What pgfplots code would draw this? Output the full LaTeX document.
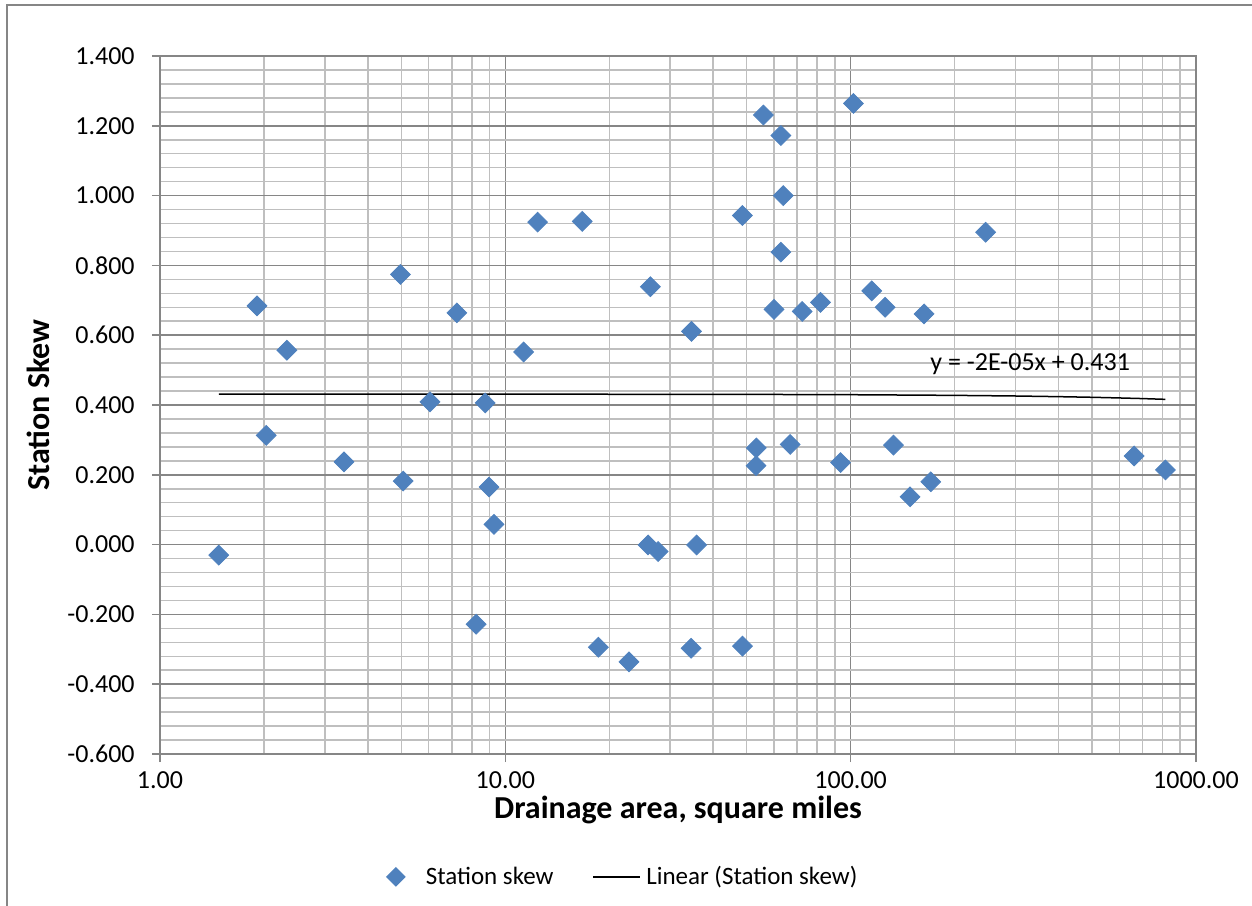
\documentclass[border=0pt]{standalone}
\usepackage{fontspec}
\setmainfont{Carlito}
\usepackage{pgfplots}
\pgfplotsset{compat=1.18}
\definecolor{mk}{HTML}{4F81BD}
\definecolor{majg}{HTML}{868686}
\definecolor{ming}{HTML}{BFBFBF}
\pgfplotstableread{
x y
1.48 -0.030
1.91 0.684
2.03 0.313
2.33 0.557
3.41 0.237
4.97 0.774
5.06 0.182
6.05 0.409
7.24 0.664
8.23 -0.228
8.74 0.406
8.97 0.165
9.27 0.058
11.3 0.552
12.4 0.924
16.7 0.926
18.6 -0.294
22.8 -0.336
25.9 -0.001
26.3 0.739
27.7 -0.020
34.5 -0.297
34.6 0.611
35.8 -0.001
48.6 -0.291
48.6 0.943
53.3 0.277
53.2 0.226
55.9 1.231
60.0 0.674
62.8 1.172
62.8 0.838
63.8 1.000
66.8 0.287
72.4 0.668
81.8 0.694
93.5 0.235
101.9 1.264
115.1 0.727
125.8 0.680
133.0 0.285
148.6 0.137
163.2 0.661
170.6 0.180
246.0 0.895
662 0.254
815.5 0.214
}\skewdata
\pgfplotstableread{
x y
1.48 0.4313
10 0.4311
50 0.4304
100 0.4295
200 0.4276
300 0.4258
400 0.4239
500 0.4221
600 0.4202
700 0.4184
815.5 0.4162
}\trenddata
\begin{document}
\begin{tikzpicture}
\useasboundingbox (-80pt,-75.5pt) rectangle (546pt,377pt);
\draw[majg, line width=0.75pt] (-76.5pt,-90pt) -- (-76.5pt,374.5pt) -- (560pt,374.5pt);
\begin{axis}[
  at={(0pt,0pt)}, anchor=south west,
  xmode=log, scale only axis, width=518pt, height=349pt,
  xmin=1, xmax=1000, ymin=-0.6, ymax=1.4,
  xtick={1,10,100,1000}, xticklabels={1.00,10.00,100.00,1000.00},
  minor xtick={2,3,4,5,6,7,8,9,20,30,40,50,60,70,80,90,200,300,400,500,600,700,800,900},
  ytick={-0.6,-0.4,-0.2,0,0.2,0.4,0.6,0.8,1.0,1.2,1.4},
  yticklabels={-0.600,-0.400,-0.200,0.000,0.200,0.400,0.600,0.800,1.000,1.200,1.400},
  minor y tick num=4,
  grid=both,
  major grid style={draw=majg, line width=0.75pt},
  minor grid style={draw=ming, line width=0.75pt},
  axis line style={draw=majg, line width=0.75pt},
  tick pos=left, tick align=outside,
  major tick length=4pt, minor tick length=0pt,
  tick style={draw=majg, line width=0.75pt},
  ticklabel style={font=\fontsize{13}{15}\selectfont, text=black},
  yticklabel style={anchor=east, inner sep=0pt, xshift=-8.5pt},
  xticklabel style={anchor=north, inner sep=0pt, yshift=-4.5pt},
  xlabel={Drainage area, square miles},
  ylabel={Station Skew},
  every axis x label/.style={at={(axis description cs:0.5,0)}, anchor=base, yshift=-32pt, font=\fontsize{16}{19}\selectfont\bfseries},
  every axis y label/.style={at={(axis description cs:-0.1062,0.5)}, rotate=90, anchor=base, font=\fontsize{16}{19}\selectfont\bfseries},
  legend style={at={(axis description cs:0.447,-0.176)}, anchor=center, draw=none, fill=none,
    font=\fontsize{12.5}{15}\selectfont, legend columns=2,
    /tikz/every even column/.append style={column sep=18pt},
    /tikz/every odd column/.append style={column sep=0pt},
    nodes={inner sep=1.5pt}},
  legend cell align=left,
]
\addplot[only marks, mark=square*, mark size=3.5pt, mark options={rotate=45, fill=mk, draw=mk},
  legend image code/.code={\fill[mk, draw=none, rotate=45] (-3.5pt,-3.5pt) rectangle (3.5pt,3.5pt); \path[draw=none] (-5pt,0pt) -- (13.5pt,0pt);}] table[x=x,y=y] {\skewdata};
\addlegendentry{Station skew}
\addplot[black, line width=0.75pt, no marks,
  legend image code/.code={\draw[black, line width=0.75pt] (0pt,0pt) -- (23.5pt,0pt); \path[draw=none] (0pt,0pt) -- (25pt,0pt);}] table[x=x,y=y] {\trenddata};
\addlegendentry{Linear (Station skew)}
\node[font=\fontsize{13}{15}\selectfont, anchor=center] at (axis cs:331,0.518) {y = -2E-05x + 0.431};
\end{axis}
\end{tikzpicture}
\end{document}
